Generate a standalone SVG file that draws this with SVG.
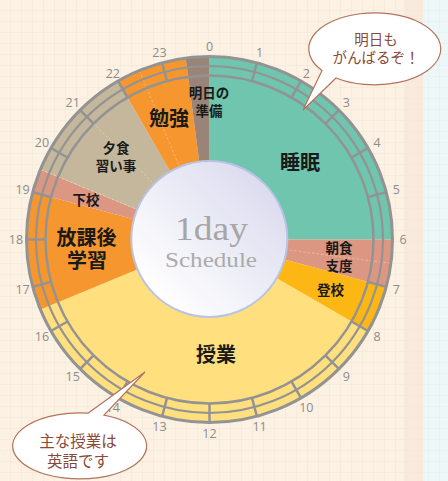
<svg xmlns="http://www.w3.org/2000/svg" width="448" height="481" viewBox="0 0 448 481">
<defs>
<pattern id="grid" width="11" height="11" patternUnits="userSpaceOnUse">
<path d="M11 0V11M0 11H11" fill="none" stroke="#e4e5d0" stroke-width="0.8"/>
</pattern>
<pattern id="grid2" width="11" height="11" patternUnits="userSpaceOnUse">
<path d="M11 0V11M0 11H11" fill="none" stroke="#dcebec" stroke-width="0.8"/>
</pattern>
<linearGradient id="cg" x1="0.15" y1="0.85" x2="0.85" y2="0.15">
<stop offset="0" stop-color="#ffffff"/>
<stop offset="1" stop-color="#dcdcef"/>
</linearGradient>
<line id="tick" x1="209.5" y1="56.5" x2="209.5" y2="76"/>
<line id="half" x1="209.5" y1="57" x2="209.5" y2="165"/>
</defs>
<style>
.lbl{font-family:"Liberation Sans","Noto Sans CJK JP","Noto Sans CJK SC",sans-serif;fill:#1a1a1a;text-anchor:middle}
.big{font-size:20px;font-weight:bold}
.sm{font-size:13.5px;font-weight:bold}
.hr{font-family:"Open Sans","Noto Sans",sans-serif;font-size:12.5px;fill:#8c8c8c;text-anchor:middle;dominant-baseline:central}
.ring{fill:none;stroke:#939393}
.ticks use{stroke:#939393;stroke-width:2.5}
.halves use{stroke:#ffffff;stroke-opacity:0.35;stroke-width:0.8;stroke-dasharray:2.5 2}
.bub{fill:#ffffff;stroke:#b4725c;stroke-width:1.2}
.bt{font-family:"Liberation Sans","Noto Sans CJK JP","Noto Sans CJK SC",sans-serif;fill:#8a4838;text-anchor:middle}
</style>
<rect width="448" height="481" fill="#fdf1e3"/>
<rect width="448" height="481" fill="url(#grid)"/>
<rect x="404" y="0" width="19" height="481" fill="#f6e6d8" opacity="0.6"/>
<rect x="423" y="0" width="25" height="481" fill="#eef7f8"/>
<rect x="423" y="0" width="25" height="481" fill="url(#grid2)"/>

<g id="wedges">
<g id="sleep"><path d="M209.5 239.5L209.5 56.5A183 183 0 0 1 392.5 239.5Z" fill="#6fc5ad"/><text class="lbl big" x="300" y="170">睡眠</text></g>
<g id="breakfast"><path d="M209.5 239.5L392.5 239.5A183 183 0 0 1 386.27 286.86Z" fill="#dc9782"/><text class="lbl sm"><tspan x="339" y="253">朝食</tspan><tspan x="339" y="271">支度</tspan></text></g>
<g id="commute"><path d="M209.5 239.5L386.27 286.86A183 183 0 0 1 367.98 331Z" fill="#fdb714"/><text class="lbl sm" x="330.5" y="295">登校</text></g>
<g id="classes"><path d="M209.5 239.5L367.98 331A183 183 0 0 1 40.43 309.53Z" fill="#ffdf7e"/><text class="lbl big" x="216" y="362">授業</text></g>
<g id="afterschool"><path d="M209.5 239.5L40.43 309.53A183 183 0 0 1 32.73 192.14Z" fill="#f5962f"/><text class="lbl big"><tspan x="86.5" y="245">放課後</tspan><tspan x="87" y="268">学習</tspan></text></g>
<g id="gohome"><path d="M209.5 239.5L32.73 192.14A183 183 0 0 1 40.43 169.47Z" fill="#dc9782"/><text class="lbl sm" x="86" y="205">下校</text></g>
<g id="dinner"><path d="M209.5 239.5L40.43 169.47A183 183 0 0 1 118 81.02Z" fill="#c4b79b"/><text class="lbl sm"><tspan x="116" y="153">夕食</tspan><tspan x="116" y="171">習い事</tspan></text></g>
<g id="study"><path d="M209.5 239.5L118 81.02A183 183 0 0 1 185.62 58.07Z" fill="#f5962f"/><text class="lbl big" x="169" y="126">勉強</text></g>
<g id="prepare"><path d="M209.5 239.5L185.62 58.07A183 183 0 0 1 209.5 56.5Z" fill="#9a8478"/><text class="lbl sm"><tspan x="209" y="98">明日の</tspan><tspan x="209" y="116">準備</tspan></text></g>
</g>

<g class="halves">
<use href="#half" transform="rotate(97.5 209.5 239.5)"/>
<use href="#half" transform="rotate(292.5 209.5 239.5)"/>
<use href="#half" transform="rotate(315 209.5 239.5)"/>
<use href="#half" transform="rotate(337.5 209.5 239.5)"/>
</g>

<g id="ring">
<circle class="ring" cx="209.5" cy="239.5" r="164" stroke-width="2.5"/>
<circle class="ring" cx="209.5" cy="239.5" r="173.5" stroke-width="2.2"/>
<circle class="ring" cx="209.5" cy="239.5" r="183" stroke-width="3"/>
<g class="ticks">
<use href="#tick" transform="rotate(15 209.5 239.5)"/>
<use href="#tick" transform="rotate(30 209.5 239.5)"/>
<use href="#tick" transform="rotate(45 209.5 239.5)"/>
<use href="#tick" transform="rotate(60 209.5 239.5)"/>
<use href="#tick" transform="rotate(75 209.5 239.5)"/>
<use href="#tick" transform="rotate(105 209.5 239.5)"/>
<use href="#tick" transform="rotate(120 209.5 239.5)"/>
<use href="#tick" transform="rotate(135 209.5 239.5)"/>
<use href="#tick" transform="rotate(150 209.5 239.5)"/>
<use href="#tick" transform="rotate(165 209.5 239.5)"/>
<use href="#tick" transform="rotate(180 209.5 239.5)"/>
<use href="#tick" transform="rotate(195 209.5 239.5)"/>
<use href="#tick" transform="rotate(210 209.5 239.5)"/>
<use href="#tick" transform="rotate(225 209.5 239.5)"/>
<use href="#tick" transform="rotate(240 209.5 239.5)"/>
<use href="#tick" transform="rotate(255 209.5 239.5)"/>
<use href="#tick" transform="rotate(270 209.5 239.5)"/>
<use href="#tick" transform="rotate(285 209.5 239.5)"/>
<use href="#tick" transform="rotate(300 209.5 239.5)"/>
<use href="#tick" transform="rotate(315 209.5 239.5)"/>
<use href="#tick" transform="rotate(330 209.5 239.5)"/>
<use href="#tick" transform="rotate(345 209.5 239.5)"/>
</g>
</g>

<g id="hours">
<text class="hr" x="209.5" y="46">0</text>
<text class="hr" x="259.6" y="52.6">1</text>
<text class="hr" x="306.3" y="73.9">2</text>
<text class="hr" x="346.3" y="102.7">3</text>
<text class="hr" x="377.1" y="142.8">4</text>
<text class="hr" x="396.4" y="189.4">5</text>
<text class="hr" x="403" y="239.5">6</text>
<text class="hr" x="396.4" y="289.6">7</text>
<text class="hr" x="377.1" y="336.3">8</text>
<text class="hr" x="346.3" y="376.3">9</text>
<text class="hr" x="306.3" y="407.1">10</text>
<text class="hr" x="259.6" y="426.4">11</text>
<text class="hr" x="209.5" y="433.5">12</text>
<text class="hr" x="159.4" y="426.4">13</text>
<text class="hr" x="112.8" y="407.1">14</text>
<text class="hr" x="72.7" y="376.3">15</text>
<text class="hr" x="41.9" y="336.3">16</text>
<text class="hr" x="22.6" y="289.6">17</text>
<text class="hr" x="16" y="239.5">18</text>
<text class="hr" x="22.6" y="189.4">19</text>
<text class="hr" x="41.9" y="142.8">20</text>
<text class="hr" x="72.7" y="102.7">21</text>
<text class="hr" x="112.8" y="73.9">22</text>
<text class="hr" x="159.4" y="52.6">23</text>
</g>

<g id="center">
<circle cx="209.3" cy="239" r="78" fill="url(#cg)" stroke="#b9c4e4" stroke-width="2"/>
<text x="211.5" y="240" font-family="Liberation Serif,serif" font-size="34" fill="#a6a6a6" text-anchor="middle" textLength="73" lengthAdjust="spacingAndGlyphs">1day</text>
<text x="211" y="267" font-family="Liberation Serif,serif" font-size="21" fill="#ababab" text-anchor="middle" textLength="92" lengthAdjust="spacingAndGlyphs">Schedule</text>
</g>

<g id="bubble-top">
<path class="bub" d="M322 70.5L303 110L336 78A66 36 0 1 0 322 70.5Z"/>
<text class="bt" font-size="14.5"><tspan x="376" y="45">明日も</tspan><tspan x="376" y="63">がんばるぞ！</tspan></text>
</g>

<g id="bubble-bottom">
<path class="bub" d="M88 413.2L145 372L104 415.2A67 33 0 1 1 88 413.2Z"/>
<text class="bt" font-size="15.5"><tspan x="78" y="447">主な授業は</tspan><tspan x="78" y="467">英語です</tspan></text>
</g>
</svg>
